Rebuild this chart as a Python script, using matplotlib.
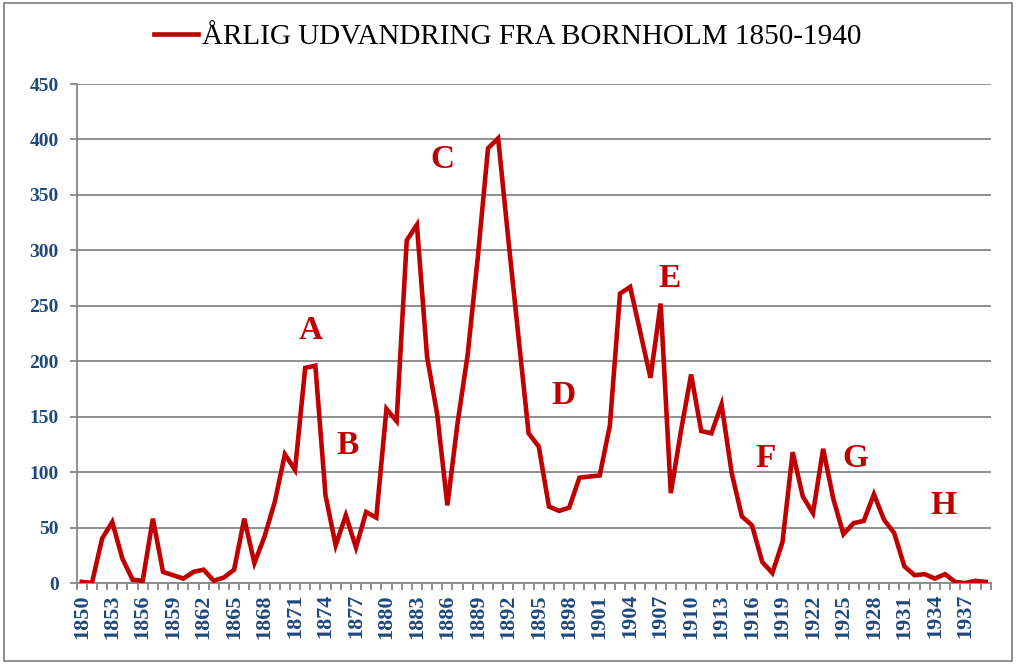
import matplotlib
matplotlib.use("Agg")
import matplotlib.pyplot as plt
from matplotlib.patches import Rectangle
import numpy as np

years = list(range(1850, 1940))
emigrants = [1, 0, 40, 55, 22, 3, 2, 58, 10, 7,
             4, 10, 12, 2, 5, 12, 58, 18, 42, 73,
             116, 102, 194, 196, 79, 34, 61, 32, 64, 59,
             157, 146, 309, 323, 204, 152, 70, 144, 206, 294,
             392, 401, 310, 222, 135, 123, 69, 65, 68, 95,
             96, 97, 142, 261, 267, 226, 185, 252, 81, 137,
             188, 137, 135, 161, 99, 60, 52, 19, 9, 37,
             118, 78, 63, 121, 76, 44, 54, 56, 80, 57,
             45, 15, 7, 8, 4, 8, 1, 0, 2, 1]
series_name = "ÅRLIG UDVANDRING FRA BORNHOLM 1850-1940"
period_labels = ["A", "B", "C", "D", "E", "F", "G", "H"]
period_label_pos = [(22.5, 228), (26.2, 124), (35.5, 382), (47.4, 169),
                    (57.85, 275), (67.3, 112), (76.2, 112), (84.8, 70)]
y_ticks = [0, 50, 100, 150, 200, 250, 300, 350, 400, 450]

RED = "#C00000"
BLUE = "#1F497D"
GRAY = "#878787"
SERIF = ["Liberation Serif", "DejaVu Serif"]

fig = plt.figure(figsize=(10.16, 6.64), dpi=100)
ax = fig.add_axes([76.7 / 1016, 1 - 583 / 664, (990.7 - 76.7) / 1016, (583 - 84) / 664])

x = np.arange(len(years))
line, = ax.plot(x, emigrants, color=RED, linewidth=3.3, solid_joinstyle="miter",
                label=series_name, zorder=3)

ax.set_xlim(-0.5, len(years) - 0.5)
ax.set_ylim(0, 450)
ax.set_yticks(y_ticks)
ax.set_yticklabels([str(v) for v in y_ticks], fontfamily=SERIF, fontweight="bold",
                   fontsize=14, color=BLUE)
ax.yaxis.grid(True, color=GRAY, linewidth=1.3)
ax.set_axisbelow(True)
ax.tick_params(axis="y", which="major", length=5, width=1.3, color=GRAY, pad=8)

# x: tick marks at category boundaries, labels every 3 categories
ax.set_xticks(np.arange(-0.5, len(years), 1.0))
ax.set_xticklabels([])
ax.tick_params(axis="x", which="major", length=5, width=1.3, color=GRAY)
lab_idx = x[::3]
ax.set_xticks(lab_idx, minor=True)
ax.set_xticklabels([str(years[i]) for i in lab_idx], minor=True, rotation=90,
                   fontfamily=SERIF, fontweight="bold", fontsize=16, color=BLUE)
ax.tick_params(axis="x", which="minor", length=0, pad=8)

for s in ["top", "right"]:
    ax.spines[s].set_visible(False)
for s in ["left", "bottom"]:
    ax.spines[s].set_color(GRAY)
    ax.spines[s].set_linewidth(1.3)

for lab, (px, py) in zip(period_labels, period_label_pos):
    ax.text(px, py, lab, ha="center", va="center", color=RED, fontfamily=SERIF,
            fontweight="bold", fontsize=24, zorder=4)

fig.legend(handles=[line], loc="center", bbox_to_anchor=(0.5, 1 - 37 / 664),
           frameon=False, prop={"family": SERIF, "size": 21},
           handlelength=1.5, handletextpad=0.15)

fig.patches.append(Rectangle((4 / 1016, 3 / 664), 1008 / 1016, 658 / 664,
                             transform=fig.transFigure, fill=False,
                             edgecolor=GRAY, linewidth=1.3))

fig.savefig("out.png", dpi=100)
